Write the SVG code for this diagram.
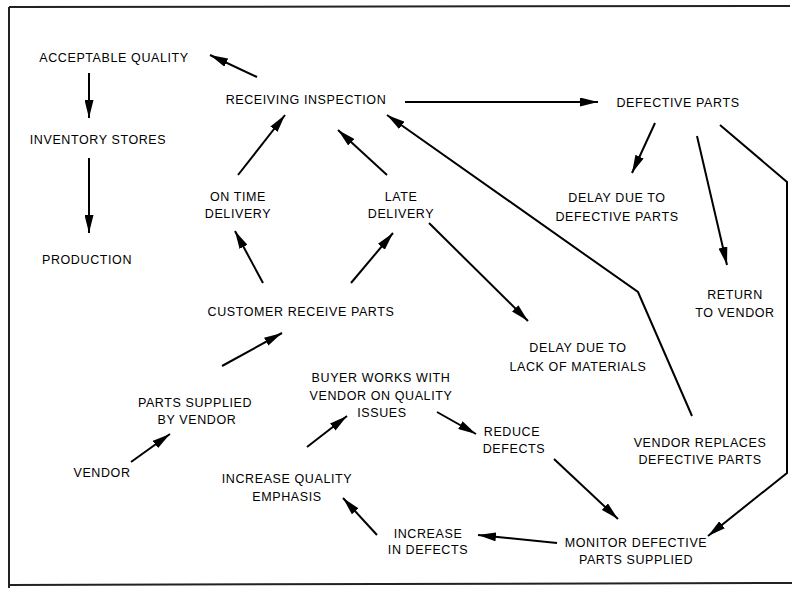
<svg xmlns="http://www.w3.org/2000/svg" width="796" height="591" viewBox="0 0 796 591">
  <style>
    .lbl { font-family: "Liberation Sans", Arial, sans-serif; font-size: 12.5px; letter-spacing: 0.6px; fill: #000; text-anchor: middle; }
    .edge { fill: none; stroke: #000; stroke-width: 2; stroke-linejoin: miter; }
    .frame { fill: none; stroke: #222; stroke-width: 2; }
  </style>
  <defs>
    <marker id="arrow" viewBox="0 0 18 9" refX="18" refY="4.5" markerWidth="18" markerHeight="9" markerUnits="userSpaceOnUse" orient="auto">
      <path d="M0,0 L18,4.5 L0,9 z" fill="#000"/>
    </marker>
  </defs>

  <rect width="796" height="591" fill="#fff"/>

  <!-- frame (open on the right side) -->
  <g id="frame">
    <line class="frame" x1="9" y1="7" x2="790" y2="6"/>
    <line class="frame" x1="9" y1="7" x2="9" y2="588"/>
    <line class="frame" x1="9" y1="585" x2="792" y2="583"/>
  </g>

  <!-- connectors -->
  <g id="connectors">
    <line class="edge" x1="257" y1="77" x2="210" y2="55" marker-end="url(#arrow)"/>
    <line class="edge" x1="89" y1="73" x2="89" y2="118" marker-end="url(#arrow)"/>
    <line class="edge" x1="89" y1="158" x2="89" y2="233" marker-end="url(#arrow)"/>
    <line class="edge" x1="238" y1="175" x2="285" y2="115" marker-end="url(#arrow)"/>
    <line class="edge" x1="387" y1="175" x2="338" y2="130" marker-end="url(#arrow)"/>
    <line class="edge" x1="405" y1="102" x2="598" y2="102" marker-end="url(#arrow)"/>
    <polyline class="edge" points="692,416 638,292 387,115" marker-end="url(#arrow)"/>
    <line class="edge" x1="655" y1="123" x2="632" y2="173" marker-end="url(#arrow)"/>
    <line class="edge" x1="697" y1="136" x2="727" y2="265" marker-end="url(#arrow)"/>
    <polyline class="edge" points="720,125 787,182 787,473 708,536" marker-end="url(#arrow)"/>
    <line class="edge" x1="263" y1="283" x2="235" y2="231" marker-end="url(#arrow)"/>
    <line class="edge" x1="351" y1="283" x2="393" y2="233" marker-end="url(#arrow)"/>
    <line class="edge" x1="429" y1="223" x2="528" y2="321" marker-end="url(#arrow)"/>
    <line class="edge" x1="222" y1="366" x2="282" y2="333" marker-end="url(#arrow)"/>
    <line class="edge" x1="131" y1="462" x2="170" y2="434" marker-end="url(#arrow)"/>
    <line class="edge" x1="307" y1="447" x2="347" y2="416" marker-end="url(#arrow)"/>
    <line class="edge" x1="437" y1="412" x2="476" y2="434" marker-end="url(#arrow)"/>
    <line class="edge" x1="554" y1="459" x2="618" y2="519" marker-end="url(#arrow)"/>
    <line class="edge" x1="557" y1="543" x2="478" y2="535" marker-end="url(#arrow)"/>
    <line class="edge" x1="377" y1="535" x2="343" y2="498" marker-end="url(#arrow)"/>
  </g>

  <!-- nodes -->
  <g id="acceptable-quality"><text class="lbl" x="114" y="62">ACCEPTABLE QUALITY</text></g>
  <g id="receiving-inspection"><text class="lbl" x="306" y="104">RECEIVING INSPECTION</text></g>
  <g id="inventory-stores"><text class="lbl" x="98" y="144">INVENTORY STORES</text></g>
  <g id="production"><text class="lbl" x="87" y="264">PRODUCTION</text></g>
  <g id="on-time-delivery">
    <text class="lbl" x="238" y="201">ON TIME</text>
    <text class="lbl" x="238" y="218">DELIVERY</text>
  </g>
  <g id="late-delivery">
    <text class="lbl" x="401" y="201">LATE</text>
    <text class="lbl" x="401" y="218">DELIVERY</text>
  </g>
  <g id="defective-parts"><text class="lbl" x="678" y="107">DEFECTIVE PARTS</text></g>
  <g id="delay-defective">
    <text class="lbl" x="617" y="202">DELAY DUE TO</text>
    <text class="lbl" x="617" y="221">DEFECTIVE PARTS</text>
  </g>
  <g id="return-to-vendor">
    <text class="lbl" x="735" y="299">RETURN</text>
    <text class="lbl" x="735" y="317">TO VENDOR</text>
  </g>
  <g id="customer-receive-parts"><text class="lbl" x="301" y="316">CUSTOMER RECEIVE PARTS</text></g>
  <g id="delay-materials">
    <text class="lbl" x="578" y="352">DELAY DUE TO</text>
    <text class="lbl" x="578" y="371">LACK OF MATERIALS</text>
  </g>
  <g id="buyer-works">
    <text class="lbl" x="381" y="382">BUYER WORKS WITH</text>
    <text class="lbl" x="381" y="400">VENDOR ON QUALITY</text>
    <text class="lbl" x="382" y="417">ISSUES</text>
  </g>
  <g id="parts-supplied">
    <text class="lbl" x="195" y="407">PARTS SUPPLIED</text>
    <text class="lbl" x="197" y="424">BY VENDOR</text>
  </g>
  <g id="vendor"><text class="lbl" x="102" y="477">VENDOR</text></g>
  <g id="increase-quality">
    <text class="lbl" x="287" y="483">INCREASE QUALITY</text>
    <text class="lbl" x="287" y="501">EMPHASIS</text>
  </g>
  <g id="reduce-defects">
    <text class="lbl" x="512" y="436">REDUCE</text>
    <text class="lbl" x="514" y="453">DEFECTS</text>
  </g>
  <g id="vendor-replaces">
    <text class="lbl" x="700" y="447">VENDOR REPLACES</text>
    <text class="lbl" x="700" y="464">DEFECTIVE PARTS</text>
  </g>
  <g id="increase-defects">
    <text class="lbl" x="428" y="538">INCREASE</text>
    <text class="lbl" x="428" y="554">IN DEFECTS</text>
  </g>
  <g id="monitor">
    <text class="lbl" x="636" y="547">MONITOR DEFECTIVE</text>
    <text class="lbl" x="636" y="564">PARTS SUPPLIED</text>
  </g>
</svg>
